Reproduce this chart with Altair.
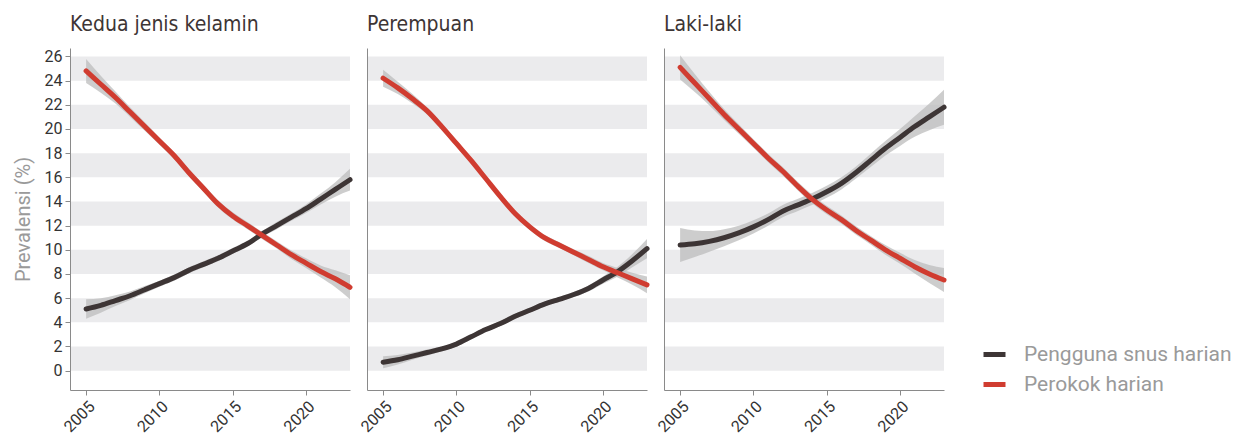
import altair as alt
import pandas as pd

years = list(range(2005, 2024))
panels = ["Kedua jenis kelamin", "Perempuan", "Laki-laki"]
series = ["Pengguna snus harian", "Perokok harian"]

# Panel 1: both sexes
both_snus = [5.1, 5.4, 5.8, 6.2, 6.7, 7.2, 7.7, 8.3, 8.8, 9.3, 9.9, 10.5, 11.3, 12.0, 12.7, 13.4, 14.2, 15.0, 15.8]
both_snus_ci = [0.8, 0.6, 0.45, 0.35, 0.3, 0.25, 0.25, 0.25, 0.25, 0.25, 0.25, 0.25, 0.25, 0.3, 0.3, 0.35, 0.45, 0.6, 0.9]
both_smoke = [24.8, 23.7, 22.6, 21.4, 20.2, 19.0, 17.8, 16.4, 15.1, 13.8, 12.8, 12.0, 11.2, 10.4, 9.6, 8.9, 8.2, 7.6, 6.9]
both_smoke_ci = [1.0, 0.7, 0.5, 0.4, 0.35, 0.3, 0.3, 0.3, 0.3, 0.3, 0.3, 0.3, 0.3, 0.3, 0.35, 0.4, 0.5, 0.7, 1.0]

# Panel 2: women
women_snus = [0.7, 0.9, 1.2, 1.5, 1.8, 2.2, 2.8, 3.4, 3.9, 4.5, 5.0, 5.5, 5.9, 6.3, 6.8, 7.5, 8.2, 9.1, 10.1]
women_snus_ci = [0.5, 0.4, 0.3, 0.25, 0.2, 0.2, 0.2, 0.2, 0.2, 0.2, 0.2, 0.2, 0.2, 0.2, 0.25, 0.3, 0.4, 0.55, 0.8]
women_smoke = [24.2, 23.4, 22.5, 21.5, 20.2, 18.8, 17.4, 15.9, 14.4, 13.0, 11.9, 11.0, 10.4, 9.8, 9.2, 8.6, 8.1, 7.6, 7.1]
women_smoke_ci = [0.7, 0.5, 0.4, 0.3, 0.3, 0.25, 0.25, 0.25, 0.25, 0.25, 0.25, 0.25, 0.25, 0.25, 0.3, 0.3, 0.4, 0.5, 0.7]

# Panel 3: men
men_snus = [10.4, 10.5, 10.7, 11.0, 11.4, 11.9, 12.5, 13.2, 13.7, 14.2, 14.8, 15.5, 16.4, 17.4, 18.4, 19.3, 20.2, 21.0, 21.8]
men_snus_ci = [1.4, 1.1, 0.85, 0.7, 0.6, 0.55, 0.5, 0.5, 0.5, 0.5, 0.5, 0.5, 0.5, 0.55, 0.6, 0.7, 0.85, 1.1, 1.45]
men_smoke = [25.1, 23.8, 22.5, 21.2, 20.0, 18.8, 17.6, 16.5, 15.3, 14.2, 13.3, 12.5, 11.6, 10.8, 10.0, 9.3, 8.6, 8.0, 7.5]
men_smoke_ci = [1.0, 0.75, 0.55, 0.45, 0.4, 0.35, 0.35, 0.35, 0.35, 0.35, 0.35, 0.35, 0.35, 0.35, 0.4, 0.45, 0.55, 0.75, 1.0]

band_lo = [0, 4, 8, 12, 16, 20, 24]
band_hi = [2, 6, 10, 14, 18, 22, 26]
y_ticks = list(range(0, 27, 2))
x_ticks = [2005, 2010, 2015, 2020]

colors = ["#3d3535", "#d03c30"]

panel_data = {
    panels[0]: [(both_snus, both_snus_ci), (both_smoke, both_smoke_ci)],
    panels[1]: [(women_snus, women_snus_ci), (women_smoke, women_smoke_ci)],
    panels[2]: [(men_snus, men_snus_ci), (men_smoke, men_smoke_ci)],
}

rows = []
for p in panels:
    for s, (vals, ci) in zip(series, panel_data[p]):
        for yr, v, c in zip(years, vals, ci):
            rows.append({"panel": p, "series": s, "year": yr, "value": v,
                         "lo": v - c, "hi": v + c})
df = pd.DataFrame(rows)
bands = pd.DataFrame({"lo": band_lo, "hi": band_hi})

W, H = 280, 342
xscale = alt.Scale(domain=[2003.9, 2023], nice=False, zero=False)
yscale = alt.Scale(domain=[-1.6, 26.7], nice=False, zero=False)
cscale = alt.Scale(domain=series, range=colors)

legend = alt.Legend(
    title=None, orient="none", legendX=911, legendY=293,
    symbolType="stroke", symbolStrokeWidth=5, symbolSize=484,
    labelFont="Roboto", labelFontSize=21, labelColor="#9a9a9a",
    labelLimit=400, rowPadding=6, labelOffset=16)

def panel(name, first):
    sub = df[df["panel"] == name]
    if first:
        yaxis = alt.Axis(values=y_ticks, title="Prevalensi (%)", grid=False,
                         labelOverlap=False, zindex=1,
                         domainColor="#8a8a8a", tickColor="#8a8a8a", tickSize=5,
                         labelFont="Roboto", labelFontSize=16, labelColor="#333333",
                         titleFont="Roboto", titleFontSize=20, titleColor="#9a9a9a",
                         titleFontWeight="normal", titlePadding=11, labelPadding=3)
    else:
        yaxis = alt.Axis(values=y_ticks, title=None, labels=False, ticks=False,
                         grid=False, domainColor="#8a8a8a", zindex=1,
                         minExtent=0, maxExtent=0)
    xaxis = alt.Axis(values=x_ticks, format="d", title=None, grid=False,
                     labelAngle=-45, domainColor="#8a8a8a", tickColor="#8a8a8a",
                     tickSize=5, labelFont="Roboto", labelFontSize=16, zindex=1,
                     labelColor="#333333", labelPadding=3)
    band = alt.Chart(bands).mark_rect(color="#ebebed").encode(
        x=alt.value(0), x2=alt.value(W),
        y=alt.Y("lo:Q", scale=yscale, axis=yaxis),
        y2="hi:Q",
    )
    area = alt.Chart(sub).mark_area(color="#bcbcbc", opacity=0.75,
                                    interpolate="monotone").encode(
        x=alt.X("year:Q", scale=xscale, axis=xaxis),
        y=alt.Y("lo:Q", scale=yscale, axis=yaxis),
        y2="hi:Q",
        detail="series:N",
    )
    line = alt.Chart(sub).mark_line(strokeWidth=5, strokeCap="round",
                                    interpolate="monotone").encode(
        x=alt.X("year:Q", scale=xscale, axis=xaxis),
        y=alt.Y("value:Q", scale=yscale, axis=yaxis),
        color=alt.Color("series:N", scale=cscale, legend=legend),
    )
    return alt.layer(band, area, line).properties(
        width=W, height=H,
        title=alt.TitleParams(name, anchor="start", frame="group",
                              font="DejaVu Sans Condensed, sans-serif",
                              fontSize=21, fontWeight="normal", color="#3d3535",
                              offset=13),
    )

chart = alt.hconcat(
    panel(panels[0], True),
    panel(panels[1], False),
    panel(panels[2], False),
    spacing=17, bounds="flush",
).configure_view(stroke=None).properties(
    padding={"left": 5, "top": 6, "right": 0, "bottom": 0})

chart.save("out.html", embed_options={"renderer": "svg", "actions": False})
